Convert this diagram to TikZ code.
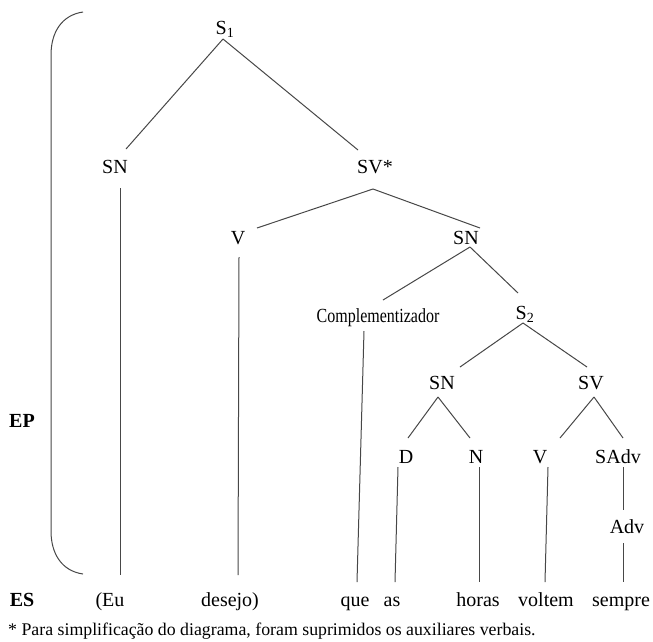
\documentclass[tikz,border=0pt]{standalone}
\usepackage{fontspec}
\setmainfont{Liberation Serif}
\newcommand\lblfont{\fontsize{20}{22}\selectfont}
\newcommand\smlfont{\fontsize{17.8}{20}\selectfont}
\tikzset{
  lbl/.style={anchor=base, inner sep=0pt, font=\lblfont},
  bld/.style={anchor=base, inner sep=0pt, font=\lblfont\bfseries},
  note/.style={anchor=base west, inner sep=0pt, font=\smlfont},
  br/.style={draw=black!72, line width=1pt},
}
\begin{document}
\begin{tikzpicture}[x=1pt,y=-1pt]
\useasboundingbox (0,0) rectangle (653,641);
% labels
\node[lbl] (S1) at (225,34) {S\textsubscript{1}};
\node[lbl] (SN) at (115,173) {SN};
\node[lbl] (SV) at (375,173) {SV*};
\node[lbl] (V) at (238,244) {V};
\node[lbl] (SNb) at (466,244) {SN};
\node[lbl] (Comp) at (378,322) {\scalebox{0.8}[1]{Complementizador}};
\node[lbl] (S2) at (525,319) {S\textsubscript{2}};
\node[lbl] (SNc) at (442,389) {SN};
\node[lbl] (SVc) at (591,389) {SV};
\node[lbl] (D) at (406,463) {D};
\node[lbl] (N) at (476,463) {N};
\node[lbl] (Vc) at (540,463) {V};
\node[lbl] (SAdv) at (618,463) {SAdv};
\node[lbl] (Adv) at (627,533) {Adv};
% words
\node[lbl] (eu) at (110,606) {(Eu};
\node[lbl] (desejo) at (230,606) {desejo)};
\node[lbl] (que) at (355,606) {que};
\node[lbl] (as) at (392,606) {as};
\node[lbl] (horas) at (478,606) {horas};
\node[lbl] (voltem) at (546,606) {voltem};
\node[lbl] (sempre) at (621,606) {sempre};
% side labels
\node[bld] (EP) at (22,427) {EP};
\node[bld] (ES) at (22,606) {ES};
\node[note] (fn) at (8,635) {* Para simplificação do diagrama, foram suprimidos os auxiliares verbais.};
% bracket
\draw[br] (83,12) .. controls (62,15) and (51,32) .. (51,55) -- (51,531) .. controls (51,554) and (62,571) .. (83,574);
% branches
\draw[br] ([shift={(-2,5)}]S1.base) -- ([shift={(11,-24)}]SN.base);
\draw[br] ([shift={(-2,5)}]S1.base) -- ([shift={(-17,-23)}]SV.base);
\draw[br] ([shift={(5,15)}]SN.base) -- ([shift={(10,-31)}]eu.base);
\draw[br] ([shift={(-2,16)}]SV.base) -- ([shift={(19,-16)}]V.base);
\draw[br] ([shift={(-2,16)}]SV.base) -- ([shift={(14,-16)}]SNb.base);
\draw[br] ([shift={(1,13)}]V.base) -- ([shift={(8,-31)}]desejo.base);
\draw[br] ([shift={(4,3)}]SNb.base) -- ([shift={(5,-22)}]Comp.base);
\draw[br] ([shift={(4,3)}]SNb.base) -- ([shift={(-7,-26)}]S2.base);
\draw[br] ([shift={(-14,9)}]Comp.base) -- ([shift={(2,-24)}]que.base);
\draw[br] ([shift={(-2,4)}]S2.base) -- ([shift={(18,-22)}]SNc.base);
\draw[br] ([shift={(-2,4)}]S2.base) -- ([shift={(-4,-22)}]SVc.base);
\draw[br] ([shift={(-4,8)}]SNc.base) -- ([shift={(2,-25)}]D.base);
\draw[br] ([shift={(-4,8)}]SNc.base) -- ([shift={(-6,-25)}]N.base);
\draw[br] ([shift={(3,8)}]SVc.base) -- ([shift={(20,-25)}]Vc.base);
\draw[br] ([shift={(3,8)}]SVc.base) -- ([shift={(5,-25)}]SAdv.base);
\draw[br] ([shift={(-8,4)}]D.base) -- ([shift={(3,-24)}]as.base);
\draw[br] ([shift={(3,4)}]N.base) -- ([shift={(1,-24)}]horas.base);
\draw[br] ([shift={(8,4)}]Vc.base) -- ([shift={(-1,-24)}]voltem.base);
\draw[br] ([shift={(5,4)}]SAdv.base) -- ([shift={(-4,-23)}]Adv.base);
\draw[br] ([shift={(-4,10)}]Adv.base) -- ([shift={(2,-24)}]sempre.base);
\end{tikzpicture}
\end{document}
